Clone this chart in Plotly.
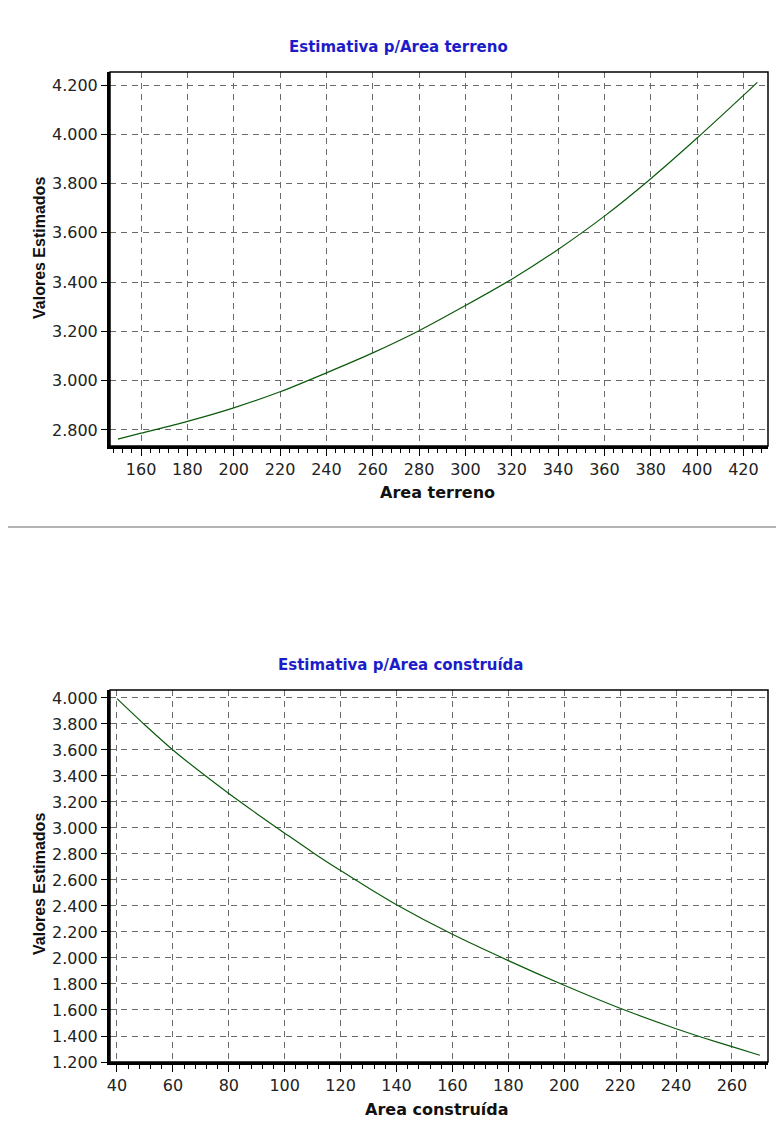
import plotly.graph_objects as go

# ---------------- data ----------------
terreno_x = [150, 160, 180, 200, 220, 240, 260, 280, 300, 320, 340, 360, 380, 400, 420, 426]
terreno_y = [2763, 2787, 2835, 2890, 2955, 3032, 3113, 3203, 3305, 3412, 3533, 3668, 3820, 3985, 4158, 4211]

construida_x = [40, 50, 60, 70, 80, 90, 100, 110, 120, 130, 140, 160, 180, 200, 220, 240, 250, 260, 270]
construida_y = [3995, 3792, 3600, 3428, 3265, 3110, 2960, 2812, 2672, 2538, 2410, 2182, 1980, 1790, 1613, 1456, 1385, 1318, 1252]

x1_ticks = [160, 180, 200, 220, 240, 260, 280, 300, 320, 340, 360, 380, 400, 420]
y1_ticks = [2800, 3000, 3200, 3400, 3600, 3800, 4000, 4200]
x2_ticks = [40, 60, 80, 100, 120, 140, 160, 180, 200, 220, 240, 260]
y2_ticks = [1200, 1400, 1600, 1800, 2000, 2200, 2400, 2600, 2800, 3000, 3200, 3400, 3600, 3800, 4000]

title1 = "Estimativa p/Area terreno"
title2 = "Estimativa p/Area construída"
xlabel1 = "Area terreno"
xlabel2 = "Area construída"
ylabel = "Valores Estimados"


def br(v):
    return f"{v:,}".replace(",", ".")


# page is rendered with an 8px body margin; compensate
OFF = 8
W, H = 784 - OFF, 1140 - OFF
L, R = 110 - OFF, 16


def px(x):
    return (x - OFF - L) / (W - L - R)


def py(y):
    return 1 - (y - OFF) / H


LINE_COLOR = "#0b5a0b"
GRID = "#6a6a6a"
TICKFONT = dict(family="DejaVu Sans", size=16, color="#222222")

fig = go.Figure()
fig.add_trace(go.Scatter(x=terreno_x, y=terreno_y, mode="lines",
                         line=dict(color=LINE_COLOR, width=1.2, shape="spline", smoothing=0.8),
                         xaxis="x", yaxis="y", showlegend=False))
fig.add_trace(go.Scatter(x=construida_x, y=construida_y, mode="lines",
                         line=dict(color=LINE_COLOR, width=1.2, shape="spline", smoothing=0.8),
                         xaxis="x2", yaxis="y2", showlegend=False))

common_x = dict(showgrid=True, gridcolor=GRID, griddash="6px,5px", gridwidth=1,
                zeroline=False, showline=True, linecolor="black", linewidth=3,
                ticks="outside", ticklen=7, tickwidth=1, tickcolor="black",
                tickfont=TICKFONT, automargin=False,
                minor=dict(ticks="outside", ticklen=4, dtick=4, tick0=0, tickcolor="black", showgrid=False))
common_y = dict(showgrid=True, gridcolor=GRID, griddash="6px,5px", gridwidth=1,
                zeroline=False, showline=True, linecolor="black", linewidth=3,
                ticks="outside", ticklen=6, tickwidth=1, tickcolor="black",
                tickfont=TICKFONT, automargin=False)

fig.update_layout(
    width=W, height=H,
    margin=dict(l=L, r=R, t=0, b=0),
    paper_bgcolor="white", plot_bgcolor="white",
    xaxis=dict(domain=[0, 1], anchor="y", range=[146.6, 430.6],
               tickvals=x1_ticks, ticktext=[str(v) for v in x1_ticks], **common_x),
    yaxis=dict(domain=[py(446), py(72)], anchor="x", range=[2735, 4253],
               tickvals=y1_ticks, ticktext=[br(v) for v in y1_ticks], **common_y),
    xaxis2=dict(domain=[0, 1], anchor="y2", range=[37.5, 272.9],
                tickvals=x2_ticks, ticktext=[str(v) for v in x2_ticks], **common_x),
    yaxis2=dict(domain=[py(1062), py(690)], anchor="x2", range=[1200, 4061],
                tickvals=y2_ticks, ticktext=[br(v) for v in y2_ticks], **common_y),
)

# thin top/right frame
for xr, yr in (("x domain", "y domain"), ("x2 domain", "y2 domain")):
    fig.add_shape(type="rect", xref=xr, yref=yr, x0=0, x1=1, y0=0, y1=1,
                  line=dict(color="black", width=1.5), layer="above")

# separator line
fig.add_shape(type="line", xref="paper", yref="paper", x0=px(8), x1=px(784), y0=py(527), y1=py(527),
              line=dict(color="#9a9a9a", width=1.5))

TITLE_FONT = dict(family="DejaVu Sans", size=15, color="#1c1cc8")
XLAB_FONT = dict(family="DejaVu Sans", size=16, color="#111111")
YLAB_FONT = dict(family="Liberation Sans", size=16, color="#111111")

ann = [
    dict(text=f"<b>{title1}</b>", x=px(398), y=py(47), font=TITLE_FONT),
    dict(text=f"<b>{title2}</b>", x=px(400), y=py(665), font=TITLE_FONT),
    dict(text=f"<b>{xlabel1}</b>", x=px(437), y=py(493), font=XLAB_FONT),
    dict(text=f"<b>{xlabel2}</b>", x=px(437), y=py(1109), font=XLAB_FONT),
    dict(text=f"<b>{ylabel}</b>", x=px(40), y=py(248), font=YLAB_FONT, textangle=-90),
    dict(text=f"<b>{ylabel}</b>", x=px(40), y=py(884), font=YLAB_FONT, textangle=-90),
]
for a in ann:
    fig.add_annotation(xref="paper", yref="paper", showarrow=False,
                       xanchor="center", yanchor="middle", **a)

fig.write_html("out.html")
